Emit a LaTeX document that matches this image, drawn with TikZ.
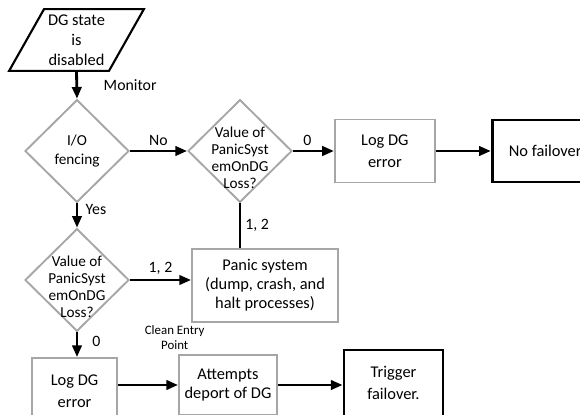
\documentclass[tikz,border=0pt]{standalone}
\usepackage{fontspec}
\setmainfont{Carlito}
\usetikzlibrary{arrows.meta,positioning,calc,shapes.geometric}
\definecolor{Ink}{HTML}{000000}
\definecolor{Frame}{HTML}{A6A6A6}
\tikzset{
  proc/.style={
    draw=Frame, line width=1.6pt, fill=white, align=center,
    inner sep=2pt, font=\fontsize{14}{18.4}\selectfont
  },
  procStrong/.style={proc,draw=Ink,line width=2.4pt},
  decision/.style={
    diamond, draw=Frame, line width=1.6pt, fill=white,
    inner sep=0pt, minimum width=3.12cm, minimum height=3.08cm
  },
  dectext/.style={align=center,font=\fontsize{13}{14.6}\selectfont},
  arr/.style={-{Triangle[length=10pt,width=8pt]},line width=2.4pt,draw=Ink},
  wire/.style={line width=2.4pt,draw=Ink},
  lbl/.style={font=\fontsize{13.5}{15}\selectfont},
  note/.style={font=\fontsize{11}{12.8}\selectfont,align=center}
}

\begin{document}
\begin{tikzpicture}[x=0.03cm,y=-0.03cm]
  \useasboundingbox (0,0) rectangle (580,414);
  \node[proc,draw=none,fill=none,minimum width=2.94cm,minimum height=1.8cm,
    font=\fontsize{14}{17}\selectfont] (start) at (76.5,40) {DG state\\is\\disabled};
  \draw[line width=1.8pt,draw=Ink] ([xshift=0.525cm]start.north west) -- ([xshift=0.525cm]start.north east)
    -- ([xshift=-0.525cm]start.south east) -- ([xshift=-0.525cm]start.south west) -- cycle;
  \node[decision,label={[dectext,font=\fontsize{13}{15.6}\selectfont]center:I/O\\fencing}] (fence) at (77,151) {};
  \node[decision,label={[dectext,yshift=-0.2cm]center:Value of\\PanicSyst\\emOnDG\\Loss?}] (valA) at (240,151) {};
  \node[proc,minimum width=3cm,minimum height=1.89cm,right=1.23cm of valA] (logA) {Log DG\\error};
  \node[procStrong,minimum width=3.18cm,minimum height=1.86cm,right=1.65cm of logA] (nofo) {No failover};
  \node[decision,label={[dectext,yshift=-0.2cm]center:Value of\\PanicSyst\\emOnDG\\Loss?}] (valB) at (77,280) {};
  \node[proc,minimum width=4.38cm,minimum height=2.19cm,font=\fontsize{14}{16.3}\selectfont] (panic) at (265,285.5) {Panic system\\(dump, crash, and\\halt processes)};
  \node[proc,minimum width=2.55cm,minimum height=1.98cm] (logB) at (74.5,391) {Log DG\\error};
  \node[proc,minimum width=2.94cm,minimum height=1.8cm,font=\fontsize{14}{16.5}\selectfont] (deport) at (228,385) {Attempts\\deport of DG};
  \node[procStrong,minimum width=2.97cm,minimum height=1.98cm] (trig) at (393.5,383) {Trigger\\failover.};
  \node[note,above=0pt of deport.north west,xshift=-0.1cm] (clean) {Clean Entry\\Point};
  \draw[arr] (start.south) -- node[lbl,right=6.5mm] {Monitor} (fence.north);
  \draw[arr] (fence.east) -- node[lbl,above] {No} (valA.west);
  \draw[arr] (valA.east) -- node[lbl,above,pos=0.35] {0} (logA.west);
  \draw[arr] (logA.east) -- (nofo.west);
  \draw[wire] (valA.south) -- node[lbl,right] {1, 2} (valA.south |- panic.north);
  \draw[arr] (fence.south) -- node[lbl,right=1mm,pos=0.25] {Yes} (valB.north);
  \draw[arr] (valB.east) -- node[lbl,above] {1, 2} (valB.east -| panic.west);
  \draw[arr] (valB.south) -- node[lbl,right=3mm,pos=0.35] {0} (valB.south |- logB.north);
  \draw[arr] (logB.east |- deport.west) -- (deport.west);
  \draw[arr] (deport.east) -- (deport.east -| trig.west);
\end{tikzpicture}
\end{document}
